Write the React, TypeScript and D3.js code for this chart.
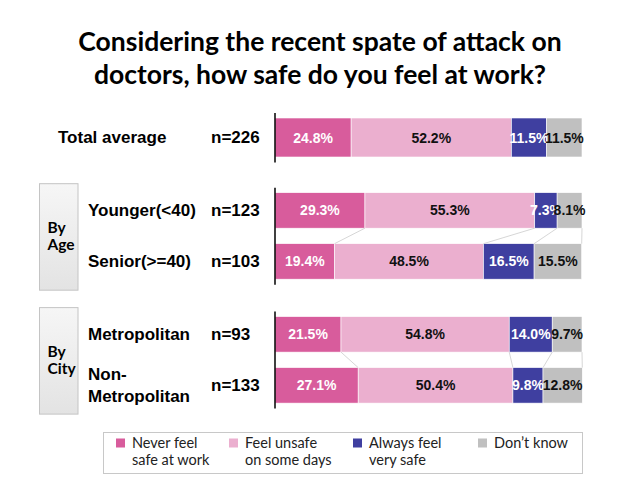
import * as d3 from "d3";

// survey answers, one value per row (percent)
const categories = ["never", "unsafe", "always", "dontknow"];
const legendLabels = [
  ["Never feel", "safe at work"],
  ["Feel unsafe", "on some days"],
  ["Always feel", "very safe"],
  ["Don\u2019t know"],
];
const rowLabels = [["Total average"], ["Younger(<40)"], ["Senior(>=40)"], ["Metropolitan"], ["Non-", "Metropolitan"]];
const sampleSizes = ["n=226", "n=123", "n=103", "n=93", "n=133"];
const rowGroups = [0, 1, 1, 2, 2];
const groupNames = [[], ["By", "Age"], ["By", "City"]];

const neverSafe = [24.8, 29.3, 19.4, 21.5, 27.1];
const unsafeSomeDays = [52.2, 55.3, 48.5, 54.8, 50.4];
const alwaysSafe = [11.5, 7.3, 16.5, 14.0, 9.8];
const dontKnow = [11.5, 8.1, 15.5, 9.7, 12.8];

const colors = ["#d85c9c", "#ebafcf", "#3f3fa0", "#c0c0c0"];
const labelColors = ["#ffffff", "#111111", "#ffffff", "#111111"];

const W = 640;
const H = 480;

export default function App() {
  const rows = rowLabels.map((_, i) => ({
    never: neverSafe[i],
    unsafe: unsafeSomeDays[i],
    always: alwaysSafe[i],
    dontknow: dontKnow[i],
  }));
  const stacked = d3.stack<any>().keys(categories)(rows);

  const x = d3.scaleLinear().domain([0, 100]).range([275, 582]);
  // row slot -> vertical centre; groups are separated by an extra gap
  const y = d3.scaleLinear().domain([0, 1]).range([137.5, 188.5]);
  const slot = (i: number) => i + rowGroups[i] * 0.43;
  const barH = (i: number) => (rowGroups[i] === 0 ? 39 : 35.5);
  const top = (i: number) => y(slot(i)) - barH(i) / 2;
  const bottom = (i: number) => y(slot(i)) + barH(i) / 2;

  const groups = d3.groups(rowLabels.map((_, i) => i), (i) => rowGroups[i]);

  const sansBold = "'Liberation Sans', Arial, sans-serif";
  const calibri = "Lato, 'Open Sans', sans-serif";

  return (
    <svg
      width={W}
      height={H}
      style={{ position: "absolute", left: 0, top: 0, background: "#fff" }}
    >
      <defs>
        <linearGradient id="boxFill" x1="0" y1="0" x2="0" y2="1">
          <stop offset="0" stopColor="#f6f6f6" />
          <stop offset="1" stopColor="#e3e3e3" />
        </linearGradient>
      </defs>

      <text x={320} y={51} textAnchor="middle" fontFamily={calibri} fontWeight="bold" fontSize={26.5}>
        Considering the recent spate of attack on
      </text>
      <text x={320} y={84} textAnchor="middle" fontFamily={calibri} fontWeight="bold" fontSize={26.5}>
        doctors, how safe do you feel at work?
      </text>

      {/* group boxes */}
      {groups
        .filter(([g]) => g > 0)
        .map(([g, idx]) => {
          const y0 = top(idx[0]) - 9;
          const y1 = bottom(idx[idx.length - 1]) + 11;
          const mid = (y0 + y1) / 2;
          return (
            <g key={"box" + g}>
              <rect x={39.5} y={y0} width={38.5} height={y1 - y0} fill="url(#boxFill)" stroke="#c4c4c4" />
              {groupNames[g].map((t, k) => (
                <text key={k} x={47.5} y={mid - 4 + k * 17.5} fontFamily={calibri} fontWeight="bold" fontSize={15.5}>
                  {t}
                </text>
              ))}
            </g>
          );
        })}

      {/* row labels */}
      {rowLabels.map((lines, i) => {
        const cy = y(slot(i));
        const lx = i === 0 ? 58 : 88;
        return (
          <g key={"lab" + i} fontFamily={sansBold} fontWeight="bold" fontSize={17}>
            {lines.map((t, k) => (
              <text key={k} x={lx} y={cy + 5.5 + (k - (lines.length - 1) / 2) * 22}>
                {t}
              </text>
            ))}
            <text x={211} y={cy + 5.5}>{sampleSizes[i]}</text>
          </g>
        );
      })}

      {/* bars */}
      {stacked.map((series, s) => (
        <g key={"s" + s}>
          {series.map((d, i) => (
            <rect
              key={i}
              x={x(d[0])}
              y={top(i)}
              width={x(d[1]) - x(d[0])}
              height={barH(i)}
              fill={colors[s]}
              stroke="#ffffff"
              strokeWidth={0.6}
            />
          ))}
          {series.map((d, i) => (
            <text
              key={"t" + i}
              x={(x(d[0]) + x(d[1])) / 2}
              y={y(slot(i))}
              dy="0.36em"
              textAnchor="middle"
              fontFamily={sansBold}
              fontWeight="bold"
              fontSize={14}
              fill={labelColors[s]}
            >
              {d.data[categories[s]].toFixed(1)}%
            </text>
          ))}
        </g>
      ))}

      {/* connector lines between rows in the same group */}
      {rowLabels.slice(1).map((_, k) => {
        const i = k + 1;
        if (rowGroups[i] !== rowGroups[i - 1]) return null;
        return stacked.map((series, s) => (
          <line
            key={"c" + i + "-" + s}
            x1={x(series[i - 1][1])}
            y1={bottom(i - 1)}
            x2={x(series[i][1])}
            y2={top(i)}
            stroke="#cccccc"
            strokeWidth={0.8}
          />
        ));
      })}

      {/* axis lines */}
      {groups.map(([g, idx]) => (
        <line
          key={"ax" + g}
          x1={x(0)}
          x2={x(0)}
          y1={top(idx[0]) - 5}
          y2={bottom(idx[idx.length - 1]) + 5.5}
          stroke="#000"
          strokeWidth={1.5}
        />
      ))}

      {/* legend */}
      <rect x={103.5} y={432.5} width={479} height={41} fill="#fff" stroke="#c8c8c8" />
      {legendLabels.map((lines, s) => {
        const lx = [116, 229, 353, 478][s];
        return (
          <g key={"lg" + s}>
            <rect x={lx} y={438.5} width={9} height={9} fill={colors[s]} />
            {lines.map((t, k) => (
              <text key={k} x={lx + 16} y={448 + k * 17} fontFamily={calibri} fontSize={14.5} fill="#222">
                {t}
              </text>
            ))}
          </g>
        );
      })}
    </svg>
  );
}
